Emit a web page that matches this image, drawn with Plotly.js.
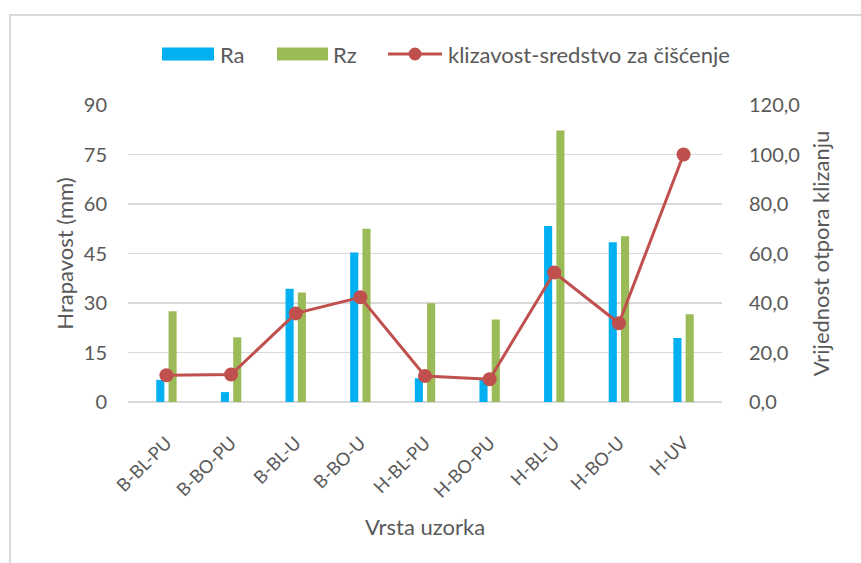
<!DOCTYPE html>
<html>
<head>
<meta charset="utf-8">
<script src="https://cdn.plot.ly/plotly-3.0.1.min.js"></script>
<style>
  html, body { margin:0; padding:0; background:#fff; overflow:hidden; }
  #frame { position:absolute; left:9px; top:14px; width:900px; height:700px; border:2px solid #d9d9d9; box-sizing:border-box; }
  #chart { position:absolute; left:0; top:0; width:861px; height:563px; }
</style>
</head>
<body>
<div id="frame"></div>
<div id="chart"></div>
<script>
const categories = ['B-BL-PU','B-BO-PU','B-BL-U','B-BO-U','H-BL-PU','H-BO-PU','H-BL-U','H-BO-U','H-UV'];
const ra = [6.7, 3.0, 34.3, 45.3, 7.2, 6.8, 53.3, 48.4, 19.4];
const rz = [27.5, 19.6, 33.2, 52.5, 29.9, 25.0, 82.3, 50.2, 26.6];
const klizavost = [10.8, 11.1, 35.8, 42.3, 10.5, 9.2, 52.3, 31.8, 100.0];
const seriesNames = ['Ra', 'Rz', 'klizavost-sredstvo za čišćenje'];
const leftTicks = [0, 15, 30, 45, 60, 75, 90];
const rightTicks = [0, 20, 40, 60, 80, 100, 120];

const colors = { ra:'#00b0f0', rz:'#9bbb59', line:'#c0504d', text:'#595959', grid:'#d9d9d9' };
const FONT = 'Lato, "Open Sans", sans-serif';

const W = 861, H = 563;
const M = { l:128, r:139, t:105, b:161 };
const pw = W - M.l - M.r, ph = H - M.t - M.b;
const px = x => (x - M.l) / pw;
const py = y => (H - M.b - y) / ph;

const traces = [
  { type:'bar', x:categories, y:ra, name:seriesNames[0], marker:{color:colors.ra}, showlegend:false },
  { type:'bar', x:categories, y:rz, name:seriesNames[1], marker:{color:colors.rz}, showlegend:false },
  { type:'scatter', mode:'lines+markers', x:categories, y:klizavost, name:seriesNames[2], yaxis:'y2',
    line:{color:colors.line, width:3}, marker:{color:colors.line, size:14}, showlegend:false }
];

// custom legend (Excel-style swatches)
const legY = 54;
const legFont = { family:FONT, size:22, color:colors.text };
const shapes = [
  { type:'rect', xref:'paper', yref:'paper', x0:px(162), x1:px(214), y0:py(60.5), y1:py(47.5), fillcolor:colors.ra, line:{width:0} },
  { type:'rect', xref:'paper', yref:'paper', x0:px(277), x1:px(328), y0:py(60.5), y1:py(47.5), fillcolor:colors.rz, line:{width:0} },
  { type:'line', xref:'paper', yref:'paper', x0:px(388), x1:px(442), y0:py(legY), y1:py(legY), line:{color:colors.line, width:3} },
  { type:'circle', xref:'paper', yref:'paper', x0:px(408.5), x1:px(421.5), y0:py(legY+6.5), y1:py(legY-6.5), fillcolor:colors.line, line:{width:0} }
];
const annotations = [
  { xref:'paper', yref:'paper', x:px(218), y:py(legY), text:seriesNames[0], showarrow:false, xanchor:'left', yanchor:'middle', font:legFont },
  { xref:'paper', yref:'paper', x:px(331), y:py(legY), text:seriesNames[1], showarrow:false, xanchor:'left', yanchor:'middle', font:legFont },
  { xref:'paper', yref:'paper', x:px(446), y:py(legY), text:seriesNames[2], showarrow:false, xanchor:'left', yanchor:'middle', font:legFont }
];

const layout = {
  width:W, height:H,
  margin:{ l:M.l, r:M.r, t:M.t, b:M.b, pad:0 },
  paper_bgcolor:'rgba(0,0,0,0)', plot_bgcolor:'rgba(0,0,0,0)',
  separators:',.',
  barmode:'group', bargap:0.62, bargroupgap:0.34,
  font:{ family:FONT, color:colors.text },
  showlegend:false,
  xaxis:{
    type:'category', tickangle:-45, showgrid:false, zeroline:false, showline:false, ticks:'',
    ticklabelstandoff:26,
    tickfont:{ family:FONT, size:18, color:colors.text },
    title:{ text:'Vrsta uzorka', font:{ family:FONT, size:22, color:colors.text }, standoff:18 }
  },
  yaxis:{
    range:[0,90], tickvals:leftTicks, ticktext:leftTicks.map(String),
    showgrid:true, gridcolor:colors.grid, gridwidth:1.5, zeroline:true, zerolinecolor:colors.grid, zerolinewidth:1.5,
    showline:false, ticks:'', ticklabelstandoff:20,
    tickfont:{ family:FONT, size:20, color:colors.text },
    title:{ text:'Hrapavost (mm)', font:{ family:FONT, size:22, color:colors.text }, standoff:4 }
  },
  yaxis2:{
    overlaying:'y', side:'right', range:[0,120], tickvals:rightTicks, tickformat:'.1f',
    showgrid:false, zeroline:false, showline:false, ticks:'', ticklabelstandoff:26,
    tickfont:{ family:FONT, size:20, color:colors.text },
    title:{ text:'Vrijednost otpora klizanju', font:{ family:FONT, size:22, color:colors.text }, standoff:14 }
  },
  shapes:shapes,
  annotations:annotations
};

Plotly.newPlot('chart', traces, layout, { staticPlot:true, displayModeBar:false });
</script>
</body>
</html>
